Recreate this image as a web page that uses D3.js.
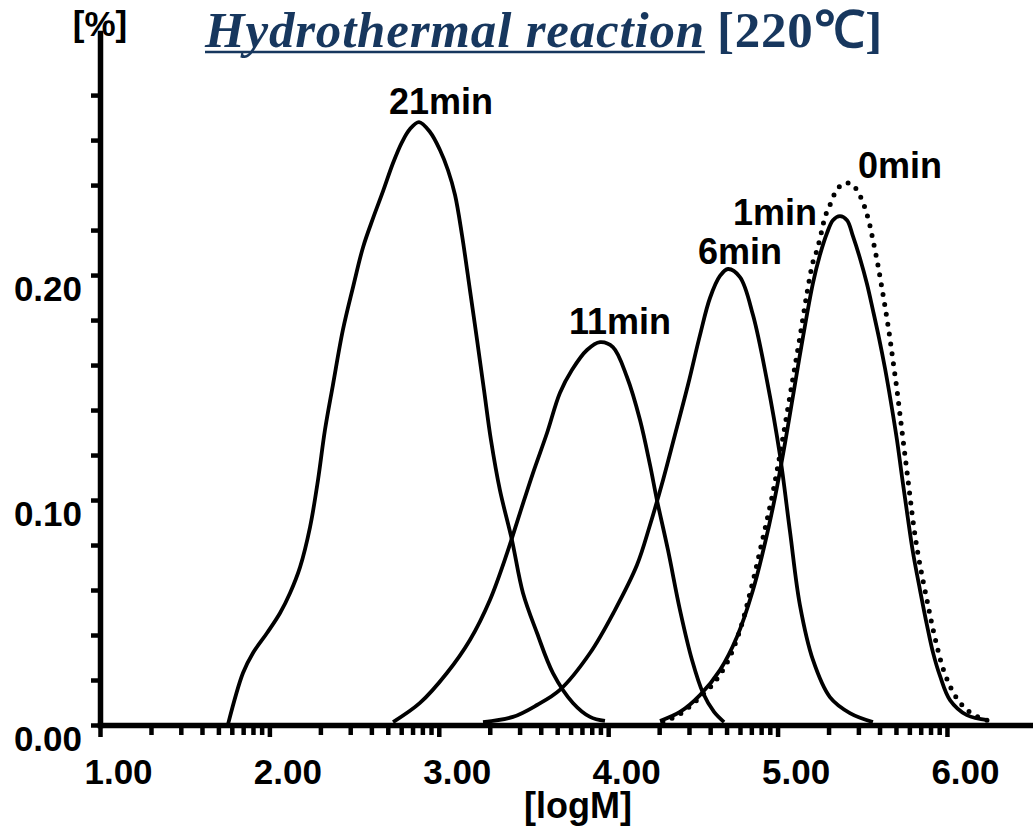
<!DOCTYPE html>
<html>
<head>
<meta charset="utf-8">
<script src="https://cdn.jsdelivr.net/npm/d3@7"></script>
<style>
  body { margin: 0; background: #fff; }
  svg { display: block; }
  .axis text { font-family: "Liberation Sans", Arial, sans-serif; font-weight: bold; font-size: 35px; fill: #000; }
  .label { font-family: "Liberation Sans", Arial, sans-serif; font-weight: bold; font-size: 36px; fill: #000; }
</style>
</head>
<body>
<script>
// Molecular weight distributions, [logM, %]
var min21 = [[1.756,0.0004],[1.844,0.0231],[1.903,0.0320],[1.986,0.0409],[2.063,0.0498],[2.122,0.0587],
  [2.181,0.0702],[2.240,0.0880],[2.287,0.1089],[2.328,0.1311],[2.375,0.1511],[2.434,0.1756],[2.494,0.1947],
  [2.553,0.2124],[2.612,0.2253],[2.671,0.2373],[2.730,0.2498],[2.783,0.2591],[2.830,0.2649],[2.883,0.2680],
  [2.948,0.2636],[3.007,0.2556],[3.054,0.2467],[3.096,0.2356],[3.137,0.2178],[3.184,0.1933],[3.226,0.1711],
  [3.267,0.1489],[3.308,0.1267],[3.361,0.1044],[3.432,0.0822],[3.497,0.0587],[3.580,0.0409],[3.674,0.0231],
  [3.792,0.0098],[3.893,0.0036],[3.981,0.0018]];

var min11 = [[2.730,0.0013],[2.889,0.0098],[3.048,0.0231],[3.184,0.0378],[3.302,0.0556],[3.403,0.0764],
  [3.479,0.0942],[3.556,0.1120],[3.639,0.1298],[3.715,0.1476],[3.786,0.1578],[3.875,0.1667],[3.952,0.1702],
  [4.028,0.1680],[4.111,0.1547],[4.188,0.1356],[4.247,0.1156],[4.288,0.1000],[4.353,0.0778],[4.424,0.0511],
  [4.495,0.0289],[4.560,0.0142],[4.625,0.0058],[4.684,0.0013]];

var min6 = [[3.261,0.0013],[3.438,0.0036],[3.580,0.0089],[3.715,0.0156],[3.893,0.0320],[4.040,0.0511],
  [4.170,0.0711],[4.247,0.0889],[4.324,0.1089],[4.394,0.1289],[4.471,0.1511],[4.542,0.1733],[4.601,0.1898],
  [4.660,0.1996],[4.707,0.2027],[4.778,0.1991],[4.855,0.1822],[4.937,0.1533],[5.014,0.1200],[5.073,0.0862],
  [5.132,0.0533],[5.209,0.0289],[5.309,0.0124],[5.427,0.0053],[5.563,0.0013]];

var min1 = [[4.306,0.0018],[4.424,0.0058],[4.542,0.0133],[4.660,0.0244],[4.760,0.0391],[4.855,0.0600],
  [4.926,0.0809],[4.985,0.1013],[5.044,0.1253],[5.103,0.1516],[5.150,0.1724],[5.209,0.1964],[5.250,0.2089],
  [5.292,0.2187],[5.327,0.2244],[5.368,0.2262],[5.410,0.2244],[5.445,0.2173],[5.486,0.2076],[5.528,0.1960],
  [5.563,0.1844],[5.599,0.1720],[5.634,0.1587],[5.669,0.1436],[5.705,0.1267],[5.734,0.1107],[5.764,0.0947],
  [5.799,0.0769],[5.841,0.0600],[5.882,0.0444],[5.917,0.0324],[5.959,0.0218],[6.018,0.0111],[6.118,0.0044],
  [6.242,0.0022]];

var min0 = [[4.323,0.0013],[4.424,0.0049],[4.524,0.0111],[4.619,0.0182],[4.701,0.0276],[4.778,0.0422],
  [4.849,0.0622],[4.908,0.0813],[4.967,0.1013],[5.026,0.1253],[5.085,0.1516],[5.132,0.1724],[5.174,0.1920],
  [5.209,0.2058],[5.233,0.2111],[5.262,0.2200],[5.280,0.2258],[5.309,0.2311],[5.339,0.2364],[5.380,0.2404],
  [5.410,0.2409],[5.439,0.2404],[5.475,0.2369],[5.510,0.2311],[5.540,0.2236],[5.563,0.2156],[5.587,0.2067],
  [5.610,0.1969],[5.634,0.1862],[5.658,0.1747],[5.681,0.1622],[5.705,0.1489],[5.728,0.1347],[5.752,0.1200],
  [5.776,0.1053],[5.799,0.0911],[5.823,0.0787],[5.852,0.0667],[5.882,0.0556],[5.911,0.0449],[5.941,0.0351],
  [5.976,0.0253],[6.018,0.0173],[6.065,0.0111],[6.118,0.0067],[6.183,0.0036],[6.272,0.0013]];

// Tick values
var xMajor = [1, 2, 3, 4, 5, 6];
var yTicks = [0, 0.02, 0.04, 0.06, 0.08, 0.10, 0.12, 0.14, 0.16, 0.18, 0.20, 0.22, 0.24, 0.26, 0.28];
var yLabeled = [0, 0.10, 0.20];

var series = [
  {name: "21min", values: min21, dotted: false, dx: 22, dy: -8},
  {name: "11min", values: min11, dotted: false, dx: 20, dy: -8},
  {name: "6min",  values: min6,  dotted: false, dx: 12, dy: -5},
  {name: "1min",  values: min1,  dotted: false, dx: -65, dy: 9},
  {name: "0min",  values: min0,  dotted: true,  dx: 53, dy: -5}
];

var width = 1033, height = 827;

var svg = d3.select("body").append("svg")
    .attr("width", width)
    .attr("height", height);

// Scales (x is logM, minor ticks follow a log pattern inside each decade)
var x = d3.scaleLinear().domain([1, 6.508]).range([100, 1033]),
    y = d3.scaleLinear().domain([0, 0.3076]).range([725, 33]);

var xMinor = [];
for (var d = 1; d < 6; d++) {
  for (var k = 2; k <= 9; k++) xMinor.push(d + Math.log10(k));
}

// Title
var title = svg.append("text")
    .attr("x", 205)
    .attr("y", 47)
    .style("font-family", "'Liberation Serif', 'Times New Roman', serif")
    .style("font-weight", "bold")
    .style("font-style", "italic")
    .style("font-size", "51px")
    .style("letter-spacing", "0.8px")
    .style("fill", "#17375e")
    .text("Hydrothermal reaction");
var tw = title.node().getComputedTextLength();
svg.append("line")
    .attr("x1", 205).attr("x2", 205 + tw)
    .attr("y1", 52).attr("y2", 52)
    .style("stroke", "#17375e")
    .style("stroke-width", 2.5);
svg.append("text")
    .attr("x", 205 + tw + 12)
    .attr("y", 47)
    .style("font-family", "'Liberation Serif', 'Times New Roman', serif")
    .style("font-weight", "bold")
    .style("font-size", "51px")
    .style("letter-spacing", "0.8px")
    .style("fill", "#17375e")
    .text("[220℃]");

// Minor x ticks
svg.append("g")
    .attr("class", "axis")
    .attr("transform", "translate(0,725)")
    .call(d3.axisBottom(x).tickValues(xMinor).tickSize(10).tickSizeOuter(0).tickFormat(""))
    .call(function(g) { g.select(".domain").remove(); });

// Major x ticks and labels
var xg = svg.append("g")
    .attr("class", "axis")
    .attr("transform", "translate(0,725)")
    .call(d3.axisBottom(x).tickValues(xMajor).tickSize(12).tickSizeOuter(0).tickFormat(d3.format(".2f")));
xg.selectAll("text").attr("dx", 18).attr("y", 34);

// y axis
var yg = svg.append("g")
    .attr("class", "axis")
    .attr("transform", "translate(100,0)")
    .call(d3.axisLeft(y).tickValues(yTicks).tickSize(9).tickSizeOuter(0)
      .tickFormat(function(d) { return yLabeled.indexOf(d) >= 0 ? d3.format(".2f")(d) : ""; }));
yg.selectAll("text").attr("dy", "0.74em").attr("x", -18);

svg.selectAll(".axis line").style("stroke", "#000").style("stroke-width", 4.5);
svg.selectAll(".axis .domain").style("stroke", "#000").style("stroke-width", 5.5).style("stroke-linecap", "square");

// Axis titles
svg.append("text")
    .attr("class", "label")
    .attr("x", 100).attr("y", 36)
    .attr("text-anchor", "middle")
    .style("font-size", "35px")
    .text("[%]");
svg.append("text")
    .attr("class", "label")
    .attr("x", 578).attr("y", 818)
    .attr("text-anchor", "middle")
    .text("[logM]");

// Curves
var line = d3.line()
    .x(function(d) { return x(d[0]); })
    .y(function(d) { return y(d[1]); })
    .curve(d3.curveCatmullRom.alpha(0.5));

series.forEach(function(s) {
  var path = svg.append("path")
      .datum(s.values)
      .attr("d", line)
      .style("fill", "none")
      .style("stroke", "#000");
  if (s.dotted) {
    path.style("stroke-width", 5)
        .style("stroke-dasharray", "0 10")
        .style("stroke-linecap", "round");
  } else {
    path.style("stroke-width", 3.8);
  }

  // Label above each peak
  var peak = d3.greatest(s.values, function(d) { return d[1]; });
  svg.append("text")
      .attr("class", "label")
      .attr("x", x(peak[0]) + s.dx)
      .attr("y", y(peak[1]) + s.dy)
      .attr("text-anchor", "middle")
      .text(s.name);
});
</script>
</body>
</html>
